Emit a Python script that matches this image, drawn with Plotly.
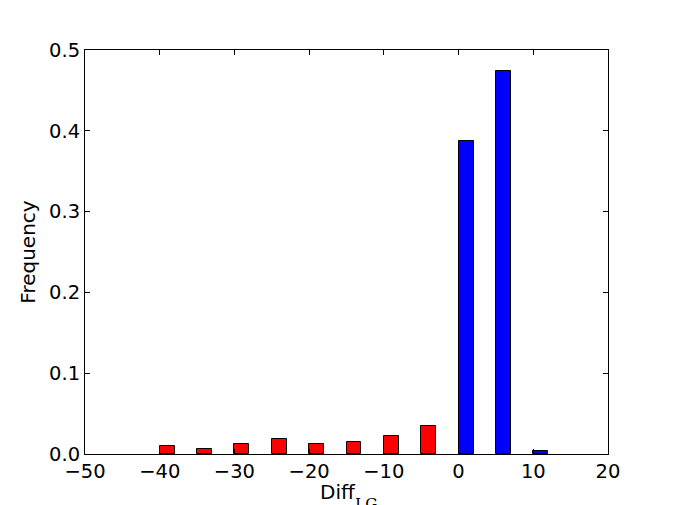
import plotly.graph_objects as go

neg_left = [-40, -35, -30, -25, -20, -15, -10, -5]
neg_freq = [0.0102, 0.0058, 0.0123, 0.018, 0.0123, 0.0144, 0.0222, 0.035]
pos_left = [0, 5, 10]
pos_freq = [0.388, 0.474, 0.004]
bar_width = 2

x_ticks = [-50, -40, -30, -20, -10, 0, 10, 20]
x_labels = ["\u221250", "\u221240", "\u221230", "\u221220", "\u221210", "0", "10", "20"]
y_ticks = [0.0, 0.1, 0.2, 0.3, 0.4, 0.5]
y_labels = ["0.0", "0.1", "0.2", "0.3", "0.4", "0.5"]

fig = go.Figure()
fig.add_trace(go.Bar(x=neg_left, y=neg_freq, width=bar_width, offset=0,
                     marker=dict(color="#ff0000", line=dict(color="black", width=1)),
                     showlegend=False))
fig.add_trace(go.Bar(x=pos_left, y=pos_freq, width=bar_width, offset=0,
                     marker=dict(color="#0000ff", line=dict(color="black", width=1)),
                     showlegend=False))

axis_common = dict(showgrid=False, zeroline=False, showline=True, linecolor="black",
                   linewidth=1, mirror="ticks", ticks="inside", ticklen=5,
                   tickcolor="black", tickfont=dict(family="DejaVu Sans", size=19.5, color="black"))

fig.update_layout(
    width=668, height=497,
    margin=dict(l=77, r=68, t=42, b=51),
    plot_bgcolor="white", paper_bgcolor="white",
    font=dict(family="DejaVu Sans", color="black"),
    bargap=0,
    xaxis=dict(range=[-50, 20], tickvals=x_ticks, ticktext=x_labels,
               automargin=False, **axis_common),
    yaxis=dict(range=[0, 0.5], tickvals=y_ticks, ticktext=y_labels,
               title=dict(text="Frequency", font=dict(size=20), standoff=8),
               automargin=False, **axis_common),
)

fig.add_annotation(text="Diff", xref="paper", yref="paper", x=0.4455, y=0,
                   xanchor="left", yanchor="top", yshift=-24, showarrow=False,
                   font=dict(family="DejaVu Sans", size=20, color="black"))
fig.add_annotation(text="LG", xref="paper", yref="paper", x=0.5115, y=0,
                   xanchor="left", yanchor="top", yshift=-39, showarrow=False,
                   font=dict(family="DejaVu Serif", size=15.5, color="black"))

fig.write_html("out.html")
